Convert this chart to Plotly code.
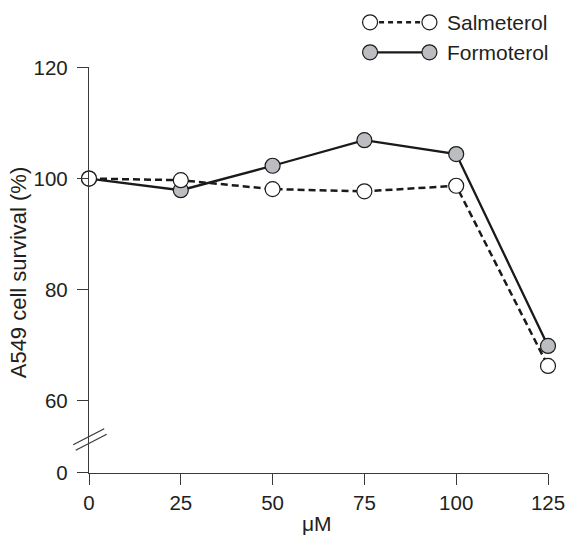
import plotly.graph_objects as go

# ---- data ----
doses = [0, 25, 50, 75, 100, 125]
salmeterol = [100.0, 99.7, 98.1, 97.7, 98.7, 66.3]
formoterol = [100.0, 97.9, 102.3, 106.9, 104.4, 69.9]
upper_ticks = [60, 80, 100, 120]
lower_ticks = [0]
x_ticks = [0, 25, 50, 75, 100, 125]
series_names = ["Salmeterol", "Formoterol"]

# ---- geometry (pixels) ----
W, H = 568, 537
L, R = 89.3, 547.7
T, B = 0.0, 472.7
PH = B - T
PW = R - L
y120_px, y60_px, break_px = 67.3, 400.7, 440.0
ppu = (y60_px - y120_px) / 60.0
upper_lo = 60 - (break_px - y60_px) / ppu


def py(p):
    return (B - p) / PH


def px(p):
    return (p - L) / PW


TXT = "#231f20"
AX = "#3a3a3a"
LINE = "#1a1a1a"
GREY = "#bcbdc0"
FONT = "Liberation Sans, Arial, Helvetica, sans-serif"
FS_TICK = 20.5
FS_LEG = 21
FS_TITLE = 22

fig = go.Figure()

# invisible anchor trace so the lower (broken) axis subplot exists
fig.add_trace(go.Scatter(
    x=[x_ticks[0]], y=[lower_ticks[0]], mode="markers", marker=dict(opacity=0),
    showlegend=False, hoverinfo="skip", xaxis="x", yaxis="y2"))

fig.add_trace(go.Scatter(
    x=doses, y=formoterol, name=series_names[1], mode="lines+markers",
    line=dict(color=LINE, width=2.3),
    marker=dict(size=15, color=GREY, line=dict(color=LINE, width=1.2)),
    cliponaxis=False, showlegend=False, xaxis="x", yaxis="y"))
fig.add_trace(go.Scatter(
    x=doses, y=salmeterol, name=series_names[0], mode="lines+markers",
    line=dict(color=LINE, width=2.5, dash="7px,4px"),
    marker=dict(size=15, color="white", line=dict(color=LINE, width=1.2)),
    cliponaxis=False, showlegend=False, xaxis="x", yaxis="y"))

# ---- custom legend on a hidden pixel-scaled axis ----
leg_x = [370.0, 429.3]
leg_rows = [22.3, 52.3]
fig.add_trace(go.Scatter(
    x=leg_x, y=[leg_rows[1]] * 2, mode="lines+markers",
    line=dict(color=LINE, width=2.3),
    marker=dict(size=15, color=GREY, line=dict(color=LINE, width=1.2)),
    cliponaxis=False, showlegend=False, xaxis="x3", yaxis="y3", hoverinfo="skip"))
fig.add_trace(go.Scatter(
    x=leg_x, y=[leg_rows[0]] * 2, mode="lines+markers",
    line=dict(color=LINE, width=2.5, dash="5px,4px"),
    marker=dict(size=15, color="white", line=dict(color=LINE, width=1.2)),
    cliponaxis=False, showlegend=False, xaxis="x3", yaxis="y3", hoverinfo="skip"))

leg_dom0 = 0.87
leg_bottom_px = B - leg_dom0 * PH

annotations = []
for name, row in zip(series_names, leg_rows):
    annotations.append(dict(x=444.5, y=row, xref="x3", yref="y3", text=name,
                            showarrow=False, xanchor="left", yanchor="middle",
                            font=dict(family=FONT, size=FS_LEG, color=TXT)))
annotations.append(dict(x=px(18.5), y=py(272), xref="paper", yref="paper",
                        text="A549 cell survival (%)", textangle=-90,
                        showarrow=False, xanchor="center", yanchor="middle",
                        font=dict(family=FONT, size=FS_TITLE, color=TXT)))
annotations.append(dict(x=px(317.5), y=py(523.5), xref="paper", yref="paper",
                        text="μM", showarrow=False, xanchor="center", yanchor="middle",
                        font=dict(family=FONT, size=FS_LEG, color=TXT)))

shapes = [
    dict(type="line", xref="paper", yref="paper",
         x0=px(73.5), y0=py(444.5), x1=px(104.5), y1=py(428.5),
         line=dict(color=AX, width=1.3)),
    dict(type="line", xref="paper", yref="paper",
         x0=px(76.0), y0=py(450.0), x1=px(107.0), y1=py(434.0),
         line=dict(color=AX, width=1.3)),
]

axis_common = dict(showline=True, linecolor=AX, linewidth=1.3, ticks="outside",
                   ticklen=11, tickwidth=1.3, tickcolor=AX, showgrid=False,
                   zeroline=False, automargin=False,
                   tickfont=dict(family=FONT, size=FS_TICK, color=TXT))

fig.update_layout(
    width=W, height=H,
    margin=dict(l=L, r=W - R, t=T, b=H - B, pad=0, autoexpand=False),
    paper_bgcolor="white", plot_bgcolor="white",
    showlegend=False,
    xaxis=dict(range=[0, 125], tickvals=x_ticks, anchor="y2", domain=[0, 1],
               **axis_common),
    yaxis=dict(range=[upper_lo, 120], tickvals=upper_ticks, anchor="x",
               domain=[py(break_px), py(y120_px)], ticklabelstandoff=5,
               **axis_common),
    yaxis2=dict(range=[0, (B - break_px) / ppu], tickvals=lower_ticks, anchor="x",
                domain=[0, py(break_px)], ticklabelstandoff=5, **axis_common),
    xaxis3=dict(range=[L, R], domain=[0, 1], anchor="y3", visible=False,
                fixedrange=True, automargin=False),
    yaxis3=dict(range=[leg_bottom_px, T], domain=[leg_dom0, 1], anchor="x3",
                visible=False, fixedrange=True, automargin=False),
    annotations=annotations,
    shapes=shapes,
)

fig.write_html("out.html", config={"displayModeBar": False},
               post_script="document.body.style.margin='0';document.body.style.overflow='hidden';")
